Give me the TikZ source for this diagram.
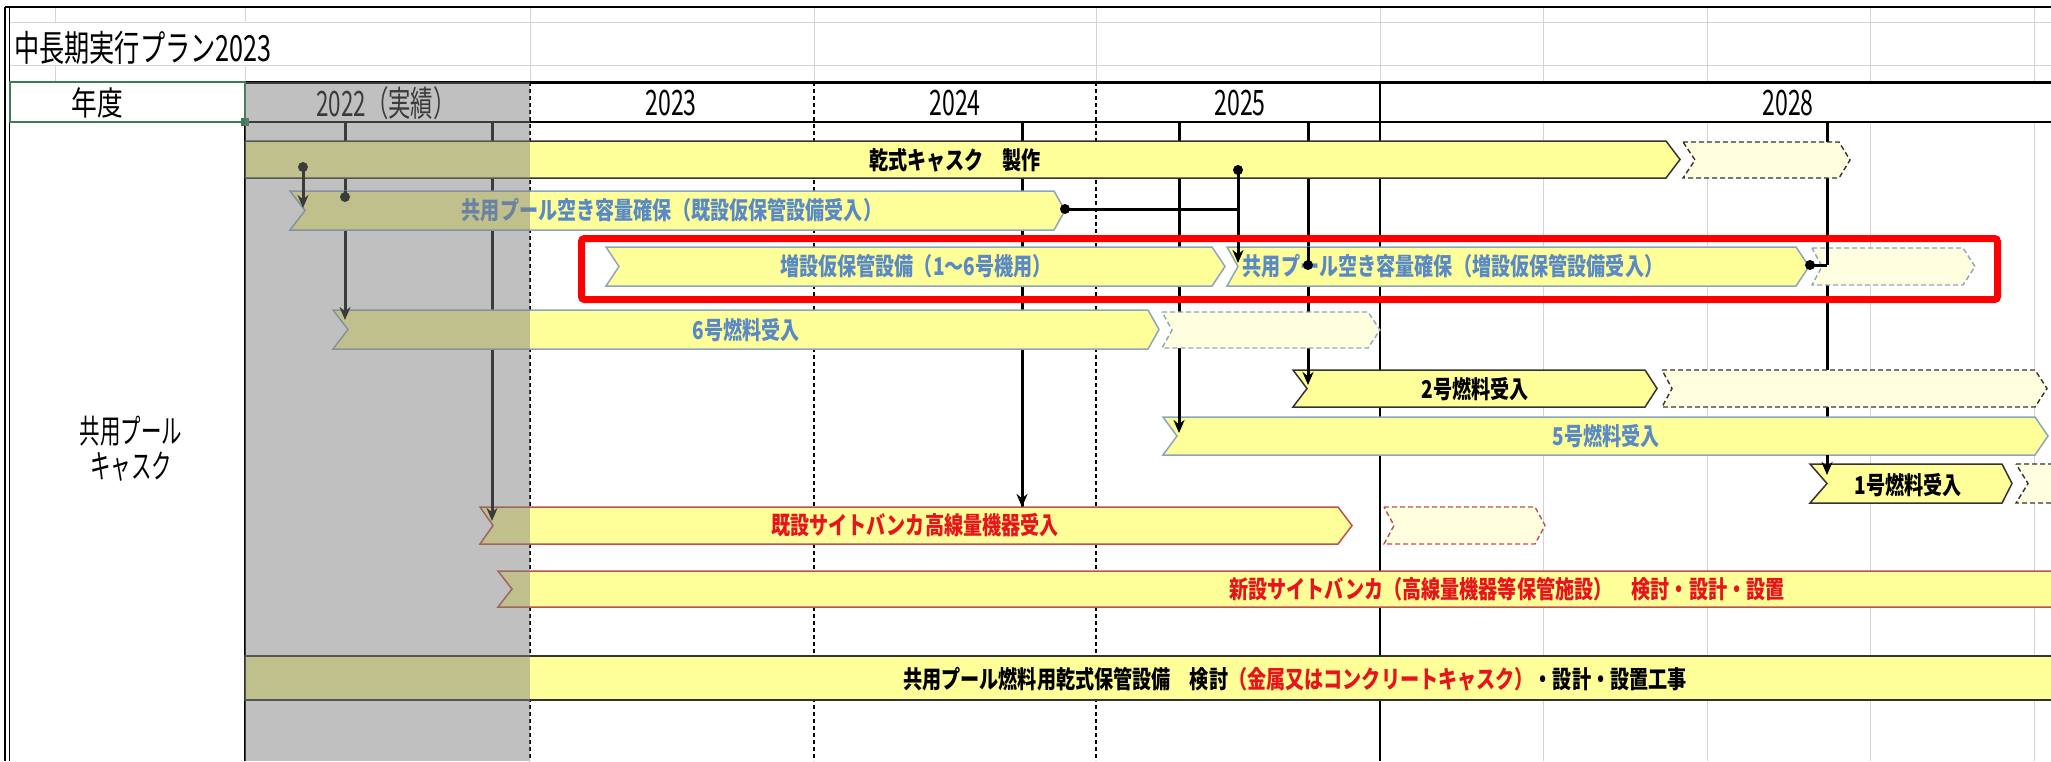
\documentclass[tikz,border=0pt]{standalone}
\usepackage{fontspec}
\usepackage{graphicx}
\setmainfont{Noto Sans CJK JP}
\usetikzlibrary{arrows.meta}
\definecolor{barY}{HTML}{FFFF9A}
\definecolor{lightY}{HTML}{FFFFE0}
\definecolor{blueT}{HTML}{5A8AC6}
\definecolor{blueB}{HTML}{8CA5BD}
\definecolor{redT}{HTML}{E8141B}
\definecolor{redB}{HTML}{C0504D}
\definecolor{darkB}{HTML}{333333}
\definecolor{gridG}{HTML}{D4D4D4}
\definecolor{selG}{HTML}{3C7A5A}
% #1 name, #2 style, #3 x left, #4 x right (body end), #5 y top, #6 y bottom, #7 left notch depth, #8 right point depth
\newcommand{\chev}[8]{%
  \path[#2] (#3,#5) -- (#4,#5) -- ({#4+#8},{(#5+#6)/2}) -- (#4,#6) -- (#3,#6) -- ({#3+#7},{(#5+#6)/2}) -- cycle;
  \coordinate (#1) at ({(#3+#4)/2},{(#5+#6)/2});
}
\newcommand{\bt}[1]{\scalebox{0.78}[1]{\fontsize{24.5}{26}\selectfont\bfseries #1}}
\newcommand{\hd}[3]{\scalebox{#1}[1]{\fontsize{#2}{#2}\selectfont #3}}
\begin{document}
\begin{tikzpicture}[x=1pt,y=-1pt,
  bar/.style={fill=barY, draw=#1, line width=1.5pt, line join=miter},
  dbar/.style={fill=lightY, draw=#1, line width=1.4pt, dash pattern=on 5pt off 3pt},
  mk/.style={line width=3pt, draw=black},
  mka/.style={line width=3pt, draw=black, -{Stealth[length=13pt,width=11pt]}},
  gridl/.style={draw=gridG, line width=1pt},
  txt/.style={inner sep=0pt},
  dot/.style={circle, fill=black, inner sep=0pt, minimum size=10pt}]
\useasboundingbox (0,0) rectangle (2051,761);
\fill[white] (0,0) rectangle (2051,761);
% spreadsheet grid (title area)
\draw[gridl] (9,22) -- (2051,22);
\draw[gridl] (9,65) -- (2051,65);
\foreach \x in {55,245} {\draw[gridl] (\x,7) -- (\x,22); \draw[gridl] (\x,65) -- (\x,82);}
\foreach \x in {530,814,1096,1380,1543,1707,1870,2034} \draw[gridl] (\x,7) -- (\x,82);
\foreach \x in {1543,1707,1870,2034} \draw[gridl] (\x,122) -- (\x,761);
% frame
\draw[line width=1.5pt] (5,7) -- (5,761);
\draw[line width=1.5pt] (9.5,7) -- (9.5,761);
\draw[line width=2pt] (5,7) -- (2051,7);
% header lines
\draw[line width=3pt] (245,82) -- (2051,82);
\draw[line width=2pt] (9,122) -- (2051,122);
\draw[line width=2pt] (245,82) -- (245,761);
\foreach \x in {530,814,1096} \draw[line width=1.3pt, dash pattern=on 4pt off 3pt] (\x,82) -- (\x,761);
\draw[line width=1.5pt] (1380,82) -- (1380,761);
\draw[selG, line width=2pt] (9.5,82) rectangle (245,122);
\fill[selG] (241,118) rectangle (249,126);
% header texts
\node[txt, anchor=west] (title) at (14,48) {\hd{0.7}{36}{中長期実行プラン2023}};
\node[txt] (nendo) at (97,103) {\hd{0.78}{33}{年度}};
\node[txt] (y2022) at (386,103) {\hd{0.64}{35}{2022（実績）}};
\node[txt] (y2023) at (671,103) {\hd{0.66}{35}{2023}};
\node[txt] (y2024) at (955,103) {\hd{0.66}{35}{2024}};
\node[txt] (y2025) at (1240,103) {\hd{0.66}{35}{2025}};
\node[txt] (y2028) at (1788,103) {\hd{0.66}{35}{2028}};
\node[txt] (lab1) at (131,431) {\hd{0.62}{33}{共用プール}};
\node[txt] (lab2) at (131,467) {\hd{0.62}{33}{キャスク}};
% marker lines (behind bars)
\coordinate (m2a) at (345,122); \coordinate (m2b) at (345,320);
\coordinate (m3a) at (492,122); \coordinate (m3b) at (492,521);
\coordinate (m4a) at (1022,122); \coordinate (m4b) at (1022,507);
\coordinate (m5a) at (1179,122); \coordinate (m5b) at (1179,433);
\coordinate (m7a) at (1308,122); \coordinate (m7b) at (1308,385);
\coordinate (m8a) at (1827,122); \coordinate (m8b) at (1827,475);
\foreach \m in {m2,m3,m4,m5,m7,m8} \draw[mk] (\m a) -- (\m b);
% bars
\chev{b1}{bar=darkB}{245}{1666}{141}{178}{0}{14}
\chev{b1d}{dbar=darkB}{1683}{1839}{142}{178}{12}{11}
\chev{b2}{bar=blueB}{290}{1054}{191}{230}{15}{11}
\chev{b3}{bar=blueB}{606}{1212}{247}{286}{13}{13}
\chev{b3b}{bar=blueB}{1227}{1796}{247}{286}{11}{13}
\chev{b3d}{dbar=blueB}{1812}{1963}{248}{285}{10}{12}
\chev{b4}{bar=blueB}{333}{1148}{310}{349}{15}{11}
\chev{b4d}{dbar=blueB}{1162}{1368}{312}{348}{10}{12}
\chev{b5}{bar=darkB}{1293}{1645}{370}{407}{14}{12}
\chev{b5d}{dbar=darkB}{1662}{2035}{370}{407}{10}{12}
\chev{b6}{bar=blueB}{1163}{2035}{417}{455}{14}{13}
\chev{b7}{bar=darkB}{1810}{2002}{464}{503}{17}{10}
\chev{b7d}{dbar=darkB}{2016}{2070}{464}{503}{12}{0}
\chev{b8}{bar=redB}{480}{1338}{507}{544}{13}{14}
\chev{b8d}{dbar=redB}{1384}{1535}{507}{544}{10}{10}
\chev{b9}{bar=redB}{498}{2070}{571}{607}{14}{0}
\chev{b10}{bar=darkB}{245}{2070}{656}{700}{0}{0}
% bar texts
\node[txt] (t1) at (955,160) {\bt{乾式キャスク　製作}};
\node[txt, text=blueT] (t2) at (672,210) {\bt{共用プール空き容量確保（既設仮保管設備受入）}};
\node[txt, text=blueT] (t3) at (916,266) {\bt{増設仮保管設備（1～6号機用）}};
\node[txt, text=blueT] (t3b) at (1453,266) {\bt{共用プール空き容量確保（増設仮保管設備受入）}};
\node[txt, text=blueT] (t4) at (746,330) {\bt{6号燃料受入}};
\node[txt] (t5) at (1475,389) {\bt{2号燃料受入}};
\node[txt, text=blueT] (t6) at (1606,436) {\bt{5号燃料受入}};
\node[txt] (t7) at (1908,485) {\bt{1号燃料受入}};
\node[txt, text=redT] (t8) at (915,525) {\bt{既設サイトバンカ高線量機器受入}};
\node[txt, text=redT] (t9) at (1507,589) {\bt{新設サイトバンカ（高線量機器等保管施設）　検討・設計・設置}};
\node[txt] (t10) at (1295,679) {\bt{共用プール燃料用乾式保管設備　検討\textcolor{redT}{（金属又はコンクリートキャスク）}・設計・設置工事}};
% connectors on top of bars
\node[dot] (d1) at (303,167) {};
\coordinate (a1) at (303,208);
\draw[mka] (d1.center) -- (a1);
\node[dot] (d2) at (345,197) {};
\coordinate (c2) at (345,191);
\draw[mk] (c2) -- (d2.center);
\coordinate (c2b) at (345,300);
\draw[mka] (c2b) -- (m2b);
\coordinate (c3) at (492,500);
\draw[mka] (c3) -- (m3b);
\coordinate (c4) at (1022,490);
\draw[mka] (c4) -- (m4b);
\coordinate (c5) at (1179,410);
\draw[mka] (c5) -- (m5b);
\node[dot] (d6) at (1238,170) {};
\coordinate (a6) at (1238,263);
\node[dot] (d6b) at (1065,209) {};
\coordinate (j6) at (1238,209);
\draw[mk] (d6b.center) -- (j6);
\draw[mka] (d6.center) -- (a6);
\coordinate (c7) at (1308,247);
\node[dot] (d7) at (1308,265) {};
\draw[mk] (c7) -- (d7.center);
\coordinate (c7b) at (1308,360);
\draw[mka] (c7b) -- (m7b);
\coordinate (c8) at (1827,247);
\coordinate (j8) at (1827,265);
\node[dot] (d8) at (1810,265) {};
\draw[mk] (c8) -- (j8);
\draw[mk] (d8.center) -- (j8);
\coordinate (c8b) at (1827,455);
\draw[mka] (c8b) -- (m8b);
% 2022 actual-results overlay
\fill[black!51, opacity=0.48] (245,82) rectangle (530,761);
% highlight box
\draw[red, line width=7pt, rounded corners=3pt] (581.5,238.5) rectangle (1997.5,299.5);
\end{tikzpicture}
\end{document}
